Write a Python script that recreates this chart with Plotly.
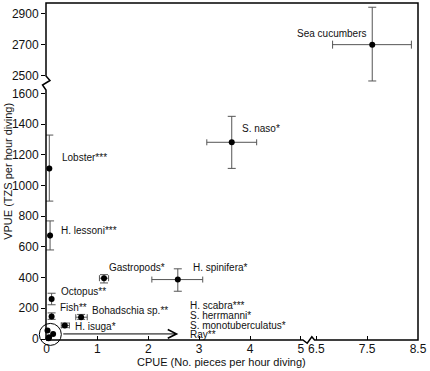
import plotly.graph_objects as go

# ---------------- data ----------------
species = ["S. naso*", "Lobster***", "H. lessoni***", "Gastropods*", "H. spinifera*",
           "Octopus**", "Fish**", "Bohadschia sp.**", "H. isuga*"]
cpue = [3.64, 0.055, 0.07, 1.13, 2.58, 0.10, 0.10, 0.68, 0.36]
vpue = [1281, 1111, 674, 396, 387, 260, 147, 142, 88]
cpue_lo = [3.15, None, None, 1.04, 2.07, None, None, 0.575, 0.29]
cpue_hi = [4.13, None, None, 1.22, 3.07, None, None, 0.80, 0.45]
vpue_lo = [1111, 898, 580, 365, 311, 223, 128, 128, 74]
vpue_hi = [1450, 1328, 769, 419, 457, 298, 170, 160, 104]

# label positions (data coords) for the lower panel
label_x = [3.80, 0.26, 0.25, 1.19, 2.84, 0.24, 0.23, 0.85, 0.52]
label_y = [1372, 1180, 706, 463, 463, 308, 206, 187, 80]

# Sea cucumbers (upper-right panel)
sc_name = "Sea cucumbers"
sc_cpue, sc_vpue = 7.60, 2700
sc_cpue_lo, sc_cpue_hi = 6.82, 8.37
sc_vpue_lo, sc_vpue_hi = 2463, 2944
sc_label = (7.52, 2774)

# cluster near origin
cluster_names = ["H. scabra***", "S. herrmanni*", "S. monotuberculatus*", "Ray**"]
cluster_cpue = [0.02, 0.13, 0.05, 0.04]
cluster_vpue = [55, 33, 12, 5]
cluster_label_x = 2.80
cluster_label_y = [221, 156, 91, 30]
arrow_start, arrow_end, arrow_y = 0.30, 2.59, 33

# ticks
x_ticks_lo = [0, 1, 2, 3, 4, 5]
x_ticks_hi = [6.5, 7.5, 8.5]
y_ticks_lo = [0, 200, 400, 600, 800, 1000, 1200, 1400, 1600]
y_ticks_hi = [2500, 2700, 2900]

# ---------------- geometry (pixels) ----------------
W, H = 430, 371
L, R, T, B = 46, 9, 3, 31
pw, ph = W - L - R, H - T - B


def px(x):
    return (x - L) / pw


def py(y):
    return (H - B - y) / ph


xbreak = px(310.5)
ybreak = py(84)

err_col = "#555555"
font_fam = "Arial, Liberation Sans, sans-serif"


def err(center, lo, hi):
    plus = [None if h is None else h - c for c, h in zip(center, hi)]
    minus = [None if l is None else c - l for c, l in zip(center, lo)]
    return plus, minus


xp, xm = err(cpue, cpue_lo, cpue_hi)
yp, ym = err(vpue, vpue_lo, vpue_hi)

fig = go.Figure()

fig.add_trace(go.Scatter(
    x=cpue, y=vpue, mode="markers", xaxis="x", yaxis="y",
    marker=dict(color="black", size=6),
    error_x=dict(type="data", symmetric=False, array=xp, arrayminus=xm,
                 color=err_col, thickness=1, width=3),
    error_y=dict(type="data", symmetric=False, array=yp, arrayminus=ym,
                 color=err_col, thickness=1, width=4),
    cliponaxis=False, showlegend=False, hoverinfo="skip"))

fig.add_trace(go.Scatter(
    x=cluster_cpue, y=cluster_vpue, mode="markers", xaxis="x", yaxis="y",
    marker=dict(color="black", size=6), cliponaxis=False,
    showlegend=False, hoverinfo="skip"))

# highlight circle around the cluster
cx = (min(cluster_cpue) + max(cluster_cpue)) / 2
cy = (min(cluster_vpue) + max(cluster_vpue)) / 2
fig.add_trace(go.Scatter(
    x=[cx], y=[cy], mode="markers", xaxis="x", yaxis="y",
    marker=dict(symbol="circle-open", size=22, color="black", line=dict(width=1, color="black")),
    cliponaxis=False, showlegend=False, hoverinfo="skip"))

fig.add_trace(go.Scatter(
    x=[sc_cpue], y=[sc_vpue], mode="markers", xaxis="x2", yaxis="y2",
    marker=dict(color="black", size=6),
    error_x=dict(type="data", symmetric=False, array=[sc_cpue_hi - sc_cpue],
                 arrayminus=[sc_cpue - sc_cpue_lo], color=err_col, thickness=1, width=4),
    error_y=dict(type="data", symmetric=False, array=[sc_vpue_hi - sc_vpue],
                 arrayminus=[sc_vpue - sc_vpue_lo], color=err_col, thickness=1, width=4),
    cliponaxis=False, showlegend=False, hoverinfo="skip"))

annotations = []
lab_font = dict(family=font_fam, size=10, color="#111111")
for name, lx, ly in zip(species, label_x, label_y):
    annotations.append(dict(x=lx, y=ly, xref="x", yref="y", text=name, showarrow=False,
                            xanchor="left", yanchor="middle", font=lab_font))
annotations.append(dict(x=sc_label[0], y=sc_label[1], xref="x2", yref="y2", text=sc_name,
                        showarrow=False, xanchor="right", yanchor="middle", font=lab_font))
for name, ly in zip(cluster_names, cluster_label_y):
    annotations.append(dict(x=cluster_label_x, y=ly, xref="x", yref="y", text=name,
                            showarrow=False, xanchor="left", yanchor="middle", font=lab_font,
                            borderpad=0))
annotations.append(dict(x=arrow_end, y=arrow_y, ax=arrow_start, ay=arrow_y,
                        xref="x", yref="y", axref="x", ayref="y", text="",
                        showarrow=True, arrowhead=5, arrowsize=1.7, arrowwidth=1,
                        arrowcolor="black"))
# axis titles
annotations.append(dict(x=px(222.5), y=py(362), xref="paper", yref="paper",
                        text="CPUE (No. pieces per hour diving)", showarrow=False,
                        xanchor="center", yanchor="middle",
                        font=dict(family=font_fam, size=11, color="#111111")))
annotations.append(dict(x=px(7), y=py(171.5), xref="paper", yref="paper",
                        text="VPUE (TZS per hour diving)", showarrow=False, textangle=-90,
                        xanchor="center", yanchor="middle",
                        font=dict(family=font_fam, size=11, color="#111111")))

# frame with break marks (paper coords)
line_style = dict(color="black", width=1.5)


def path(points):
    s = "M " + " L ".join(f"{px(a):.5f},{py(b):.5f}" for a, b in points)
    return s


shapes = [
    dict(type="path", xref="paper", yref="paper", line=line_style,
         path=path([(46, 340), (305, 340), (309.3, 343.3), (314, 336.7), (316.7, 340),
                    (421, 340), (421, 3), (46, 3), (46, 76), (50, 80.5), (42.5, 85),
                    (46, 90), (46, 340)])),
]

tick_font = dict(family=font_fam, size=12, color="#111111")
axis_common = dict(showgrid=False, zeroline=False, showline=False, ticklen=4,
                   tickwidth=1, tickcolor="black", tickfont=tick_font)

fig.update_layout(
    width=W, height=H, autosize=False,
    margin=dict(l=L, r=R, t=T, b=B, pad=0),
    paper_bgcolor="white", plot_bgcolor="white",
    showlegend=False,
    xaxis=dict(domain=[0, xbreak], range=[-0.01, (310.5 - 46.5) / 51.3],
               tickvals=x_ticks_lo, ticks="inside", anchor="y", **axis_common),
    xaxis2=dict(domain=[xbreak, 1], range=[6.5 - 8 / 51.25, 8.5],
                tickvals=x_ticks_hi, ticktext=[str(v) for v in x_ticks_hi],
                ticks="inside", anchor="y", **axis_common),
    yaxis=dict(domain=[0, ybreak], range=[-6.5, 1600 + 9.3 / 0.1535],
               tickvals=y_ticks_lo, ticks="outside", anchor="x", **axis_common),
    yaxis2=dict(domain=[ybreak, 1], range=[2500 - 8.7 / 0.1535, 2900 + 11 / 0.1535],
                tickvals=y_ticks_hi, ticks="outside", anchor="x", **axis_common),
    annotations=annotations,
    shapes=shapes,
)

fig.write_html("out.html", config={"displayModeBar": False},
               post_script="document.body.style.margin='0';")
